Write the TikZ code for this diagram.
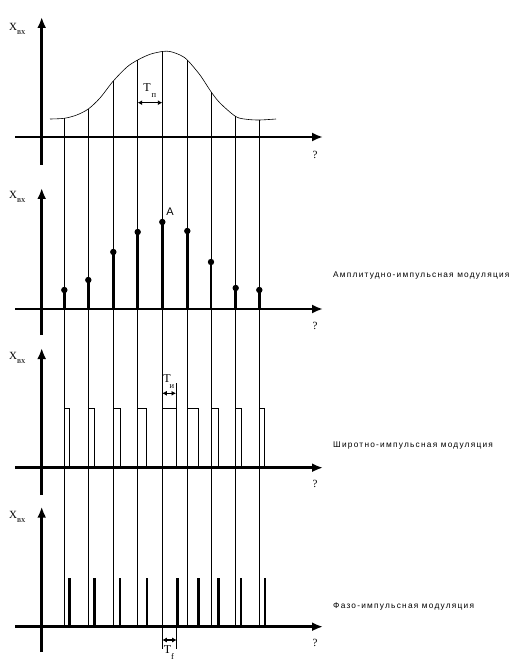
\documentclass[tikz,border=0pt]{standalone}
\usepackage{fontspec}
\setmainfont{Liberation Serif}
\newfontfamily\rusfont[LetterSpace=15]{Liberation Sans}
\newfontfamily\lblsans{Liberation Sans}
\usetikzlibrary{arrows.meta}
\begin{document}
\begin{tikzpicture}[x=1pt,y=-1pt,
  axisline/.style={line width=2.6pt,-{Latex[length=11pt,width=9pt]}},
  thin/.style={line width=0.6pt},
  stem/.style={line width=2.8pt},
  dimarrow/.style={line width=1.2pt,{Latex[length=4.5pt,width=5pt]}-{Latex[length=4.5pt,width=5pt]}},
  xlbl/.style={inner sep=0pt,anchor=west,font=\fontsize{11}{11}\selectfont},
  subl/.style={inner sep=0pt,font=\fontsize{8.5}{8.5}\selectfont},
  qlbl/.style={inner sep=0pt,font=\fontsize{11}{11}\selectfont},
  modlbl/.style={inner sep=0pt,anchor=west,font=\rusfont\fontsize{8.3}{9}\selectfont},
  tlbl/.style={inner sep=0pt,font=\fontsize{12}{12}\selectfont}
]
\useasboundingbox (0,0) rectangle (522,668);
\fill[white] (0,0) rectangle (522,668);

% ---- Panel 1: envelope ----
\draw[thin] plot[smooth,tension=0.5] coordinates {(50,119) (64.3,118.3) (76.7,115) (88.3,109) (100,98) (113.3,81) (127,67) (137.7,60) (150,54.3) (162.3,51.5) (170,51.5) (180,55) (187.3,60) (200,75) (211,91.7) (220,103) (235.7,116.5) (246.7,119.3) (259.3,120) (276,119)};

% vertical sampling lines (from envelope down to last axis)
\foreach \x/\t in {64.3/118.3,88.3/109,113.3/81,137.7/60,162.3/51.5,187.3/60,211/91.7,235.7/116.5,259.3/120}
  \draw[thin] (\x,\t) -- (\x,626.7);

% T_p
\coordinate (tpa) at (137.7,102.7);
\coordinate (tpb) at (162.3,102.7);
\draw[dimarrow] (tpa) -- (tpb);
\node[tlbl] (tp) at (147,88) {T};
\node[subl] (tpsub) at (154,96) {п};

% axes panel 1
\draw[axisline] (15,137) -- (323,137);
\draw[axisline] (41.7,165) -- (41.7,17);
\node[xlbl] (x1) at (9,29) {X\raisebox{-3.5pt}{\fontsize{8.5}{8.5}\selectfont вх}};
\node[qlbl] (q1) at (315,155) {?};

% ---- Panel 2: PAM ----
\foreach \x/\t in {64.3/290,88.3/280,113.3/252,137.7/232,162.3/222,187.3/231,211/262,235.7/288,259.3/290}{
  \draw[stem] (\x,309) -- (\x,\t);
  \fill (\x,\t) circle (3.2pt);
}
\node[inner sep=0pt,font=\lblsans\fontsize{11}{11}\selectfont] (A) at (170,212) {A};
\draw[axisline] (15,309) -- (323,309);
\draw[axisline] (41.7,335) -- (41.7,188);
\node[xlbl] (x2) at (9,197) {X\raisebox{-3.5pt}{\fontsize{8.5}{8.5}\selectfont вх}};
\node[qlbl] (q2) at (315,326) {?};
\node[modlbl] (m1) at (333,275.7) {Амплитудно-импульсная модуляция};

% ---- Panel 3: PWM ----
\foreach \x/\r in {64.3/69,88.3/94.3,113.3/120,137.7/146.7,162.3/176.7,187.3/198.3,211/218.3,235.7/241,259.3/264.3}
  \draw[thin] (\x,467.7) -- (\x,408.3) -- (\r,408.3) -- (\r,467.7);
\draw[thin] (176.7,408.3) -- (176.7,383);
\coordinate (tia) at (162.3,393.3);
\coordinate (tib) at (176,393.3);
\draw[dimarrow] (tia) -- (tib);
\node[tlbl] (ti) at (167,379) {T};
\node[subl] (tisub) at (172,387) {и};
\draw[axisline] (15,467.7) -- (323,467.7);
\draw[axisline] (41.7,495) -- (41.7,348);
\node[xlbl] (x3) at (9,358) {X\raisebox{-3.5pt}{\fontsize{8.5}{8.5}\selectfont вх}};
\node[qlbl] (q3) at (315,484) {?};
\node[modlbl] (m2) at (333,446) {Широтно-импульсная модуляция};

% ---- Panel 4: PPM ----
\foreach \r in {69.3,94.3,120,147,177.3,198.3,218.3,241,265}
  \draw[stem] (\r,626.7) -- (\r,578.3);
\draw[thin] (162.3,626.7) -- (162.3,649);
\draw[thin] (176.7,626.7) -- (176.7,649);
\coordinate (tfa) at (162.3,640);
\coordinate (tfb) at (176.7,640);
\draw[dimarrow] (tfa) -- (tfb);
\node[tlbl] (tf) at (167.5,649.5) {T};
\node[subl] (tfsub) at (172.5,656) {f};
\draw[axisline] (15,626.7) -- (323,626.7);
\draw[axisline] (41.7,652) -- (41.7,506.7);
\node[xlbl] (x4) at (9,517) {X\raisebox{-3.5pt}{\fontsize{8.5}{8.5}\selectfont вх}};
\node[qlbl] (q4) at (315,643) {?};
\node[modlbl] (m3) at (333,606) {Фазо-импульсная модуляция};
\end{tikzpicture}
\end{document}
